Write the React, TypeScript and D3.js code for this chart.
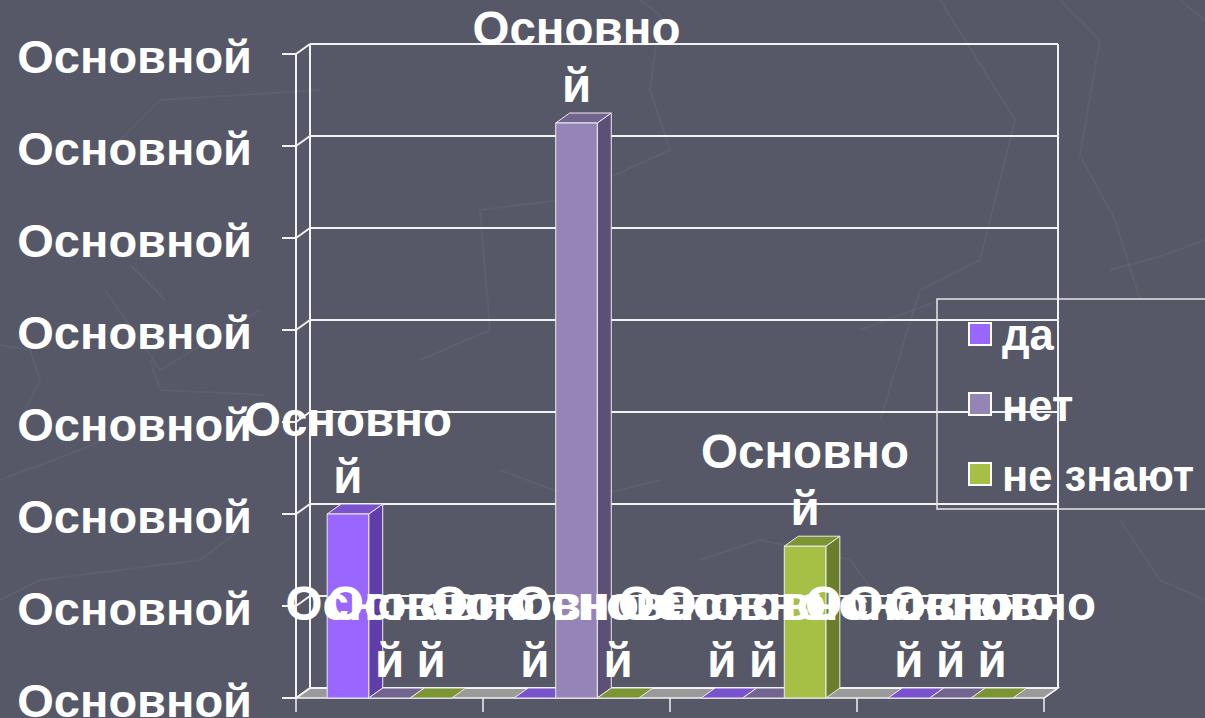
import React from "react";
import * as d3 from "d3";

const categories = ["1", "2", "3", "4"];
const seriesNames = ["да", "нет", "не знают"];
const valuesDa = [20, 0, 0, 0];
const valuesNet = [0, 62.5, 0, 0];
const valuesNeZnayut = [0, 0, 16.5, 0];
const tickValues = [0, 10, 20, 30, 40, 50, 60, 70];
const tickLabels = ["Основной", "Основной", "Основной", "Основной", "Основной", "Основной", "Основной", "Основной"];
const dataLabelLines = ["Основно", "й"];

const W = 1205;
const H = 718;
const FONT = "'Liberation Sans', Arial, sans-serif";
const BG = "#565867";
const DX = 14;
const DY = 10;

const palette = [
  { front: "#9966FF", side: "#5F3EAA", top: "#7A52CC" },
  { front: "#9584B6", side: "#5C5076", top: "#72638F" },
  { front: "#A6BF45", side: "#6A7E2B", top: "#7C9432" },
];

const decorLines = [
  "M0,345 L30,350 L40,380 L20,420",
  "M110,150 L160,100 L320,90",
  "M105,290 L160,370 L260,310",
  "M0,600 L40,580 L200,560 L240,530",
  "M130,265 L165,300",
  "M150,360 L160,390 L265,395",
  "M0,480 L80,450 L150,420",
  "M640,0 L660,15 L650,90 L670,150 L560,200 L480,210 L490,330 L420,360",
  "M940,0 L1015,120 L980,260 L920,290 L880,420",
  "M1060,0 L1100,40 L1080,155 L1115,220 L1140,300",
  "M1180,0 L1205,20",
  "M1110,270 L1165,255 L1205,240",
  "M860,330 L940,300",
  "M500,470 L580,500 L660,480",
  "M700,560 L760,540 L850,560 L880,600",
  "M1120,520 L1160,580 L1205,600",
];

export default function App() {
  const front = { left: 296, right: 1044, bottom: 698, top: 54 };
  const y = d3.scaleLinear().domain([0, 70]).range([front.bottom, front.top]);
  const x = d3.scaleBand().domain(categories).range([front.left, front.right]).padding(0);
  const xs = d3
    .scaleBand()
    .domain(seriesNames)
    .range([0, x.bandwidth()])
    .paddingInner(0)
    .paddingOuter(0.75);

  const seriesValues = [valuesDa, valuesNet, valuesNeZnayut];

  const bars: any[] = [];
  categories.forEach((c, ci) => {
    seriesNames.forEach((s, si) => {
      const v = seriesValues[si][ci];
      const x0 = (x(c) as number) + (xs(s) as number);
      bars.push({ c, s, si, v, x0, w: xs.bandwidth() });
    });
  });

  const y0 = y(0);
  const poly = (pts: number[][]) => pts.map((p) => p.join(",")).join(" ");
  const gridColor = "#F2F2F2";

  return (
    <svg width={W} height={H} style={{ position: "absolute", left: 0, top: 0, display: "block" }}>
      <rect x={0} y={0} width={W} height={H} fill={BG} />
      <g stroke="#ffffff" strokeOpacity={0.045} strokeWidth={2} fill="none">
        {decorLines.map((d, i) => (
          <path key={i} d={d} />
        ))}
      </g>

      {/* floor */}
      <polygon
        points={poly([
          [front.left, y0],
          [front.left + DX, y0 - DY],
          [front.right + DX, y0 - DY],
          [front.right, y0],
        ])}
        fill="#9A9A9A"
        stroke={gridColor}
        strokeWidth={1.5}
      />

      {/* back wall gridlines + side wall */}
      {tickValues.map((t) => (
        <g key={t} stroke={gridColor} strokeWidth={2} fill="none">
          <line x1={front.left + DX} x2={front.right + DX} y1={y(t) - DY} y2={y(t) - DY} />
          <line x1={front.left} x2={front.left + DX} y1={y(t)} y2={y(t) - DY} />
          <line x1={front.left - 14} x2={front.left} y1={y(t)} y2={y(t)} />
        </g>
      ))}
      <line x1={front.left + DX} x2={front.left + DX} y1={y(70) - DY} y2={y0 - DY} stroke={gridColor} strokeWidth={2} />
      <line x1={front.right + DX} x2={front.right + DX} y1={y(70) - DY} y2={y0 - DY} stroke={gridColor} strokeWidth={2} />
      <line x1={front.left} x2={front.left} y1={y(70)} y2={y0} stroke={gridColor} strokeWidth={2} />
      <line x1={front.right} x2={front.right + DX} y1={y0} y2={y0 - DY} stroke={gridColor} strokeWidth={1.5} />

      {/* bars */}
      {bars.map((b, i) => {
        const col = palette[b.si];
        const yt = y(b.v);
        const xr = b.x0 + b.w;
        return (
          <g key={i} stroke="#EDEDED" strokeWidth={1} strokeLinejoin="round">
            {b.v > 0 && (
              <polygon
                points={poly([
                  [xr, yt],
                  [xr + DX, yt - DY],
                  [xr + DX, y0 - DY],
                  [xr, y0],
                ])}
                fill={col.side}
              />
            )}
            <polygon
              points={poly([
                [b.x0, yt],
                [b.x0 + DX, yt - DY],
                [xr + DX, yt - DY],
                [xr, yt],
              ])}
              fill={col.top}
            />
            {b.v > 0 && <rect x={b.x0} y={yt} width={b.w} height={y0 - yt} fill={col.front} />}
          </g>
        );
      })}

      {/* category ticks */}
      {categories.map((c) => (
        <line key={c} x1={x(c)} x2={x(c)} y1={y0} y2={y0 + 14} stroke={gridColor} strokeWidth={1.5} />
      ))}
      <line x1={front.right} x2={front.right} y1={y0} y2={y0 + 14} stroke={gridColor} strokeWidth={1.5} />

      {/* y labels */}
      {tickValues.map((t, i) => (
        <text
          key={t}
          x={252}
          y={y(t) + 19}
          textAnchor="end"
          fontFamily={FONT}
          fontWeight="bold"
          fontSize={47}
          fill="#ffffff"
        >
          {tickLabels[i]}
        </text>
      ))}

      {/* data labels */}
      {bars.map((b, i) => {
        const cx = b.x0 + b.w / 2;
        const by = y(b.v) - 21;
        return (
          <text key={i} textAnchor="middle" fontFamily={FONT} fontWeight="bold" fontSize={47.5} fill="#ffffff">
            <tspan x={cx} y={by - 57}>
              {dataLabelLines[0]}
            </tspan>
            <tspan x={cx} y={by}>
              {dataLabelLines[1]}
            </tspan>
          </text>
        );
      })}

      {/* legend */}
      <rect x={937} y={299} width={300} height={210} fill="none" stroke="#E6E6E6" strokeWidth={1.5} />
      {seriesNames.map((s, i) => (
        <g key={s}>
          <rect x={969} y={323 + i * 70} width={22} height={22} fill={palette[i].front} stroke="#ffffff" strokeWidth={2} />
          <text x={1002} y={350 + i * 70.5} fontFamily={FONT} fontWeight="bold" fontSize={43.5} fill="#ffffff">
            {s}
          </text>
        </g>
      ))}
    </svg>
  );
}
